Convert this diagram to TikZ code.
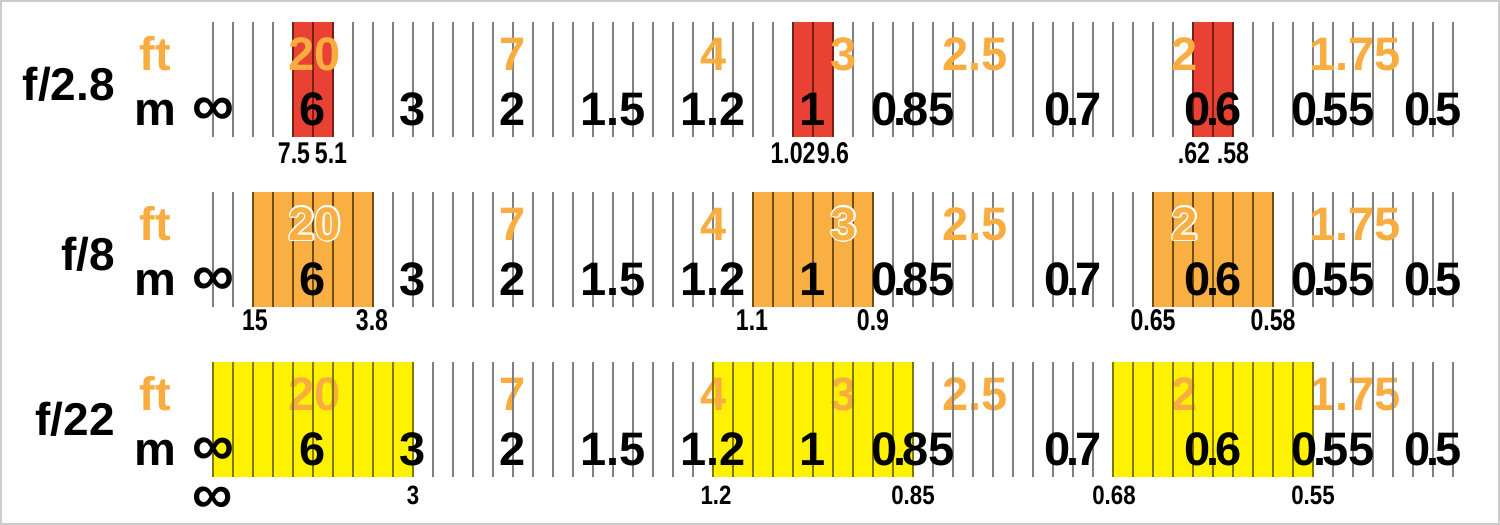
\documentclass[tikz,border=0pt]{standalone}
\usepackage{fontspec}
\setmainfont{Liberation Sans}
\usepackage{graphicx}
\usetikzlibrary{calc}
\definecolor{tickc}{RGB}{128,128,128}
\definecolor{redf}{RGB}{233,66,52}
\definecolor{orf}{RGB}{249,175,66}
\definecolor{yelf}{RGB}{255,242,0}
\definecolor{ftc}{RGB}{249,173,64}
\definecolor{redtick}{RGB}{118,32,24}
\definecolor{ortick}{RGB}{112,78,28}
\definecolor{yeltick}{RGB}{128,121,0}
\definecolor{framec}{RGB}{204,204,204}
\newcommand\zpt{0\kern-4pt.\kern-4pt}
\newcommand\narrowA[1]{\scalebox{0.77}[1]{#1}}
\newcommand\narrowB[1]{\scalebox{0.84}[1]{#1}}
\newcommand\infsym{\scalebox{1.25}{∞}}
\begin{document}
\begin{tikzpicture}[x=1pt,y=-1pt,
  tickl/.style={line width=1.8pt, draw=tickc},
  bigtxt/.style={font=\fontsize{47}{47}\selectfont\bfseries, inner sep=0pt, anchor=base},
  fttxt/.style={bigtxt, text=ftc},
  smalltxt/.style={font=\fontsize{30}{30}\selectfont\bfseries, inner sep=0pt, anchor=base},
  smalltxtb/.style={font=\fontsize{26.5}{26.5}\selectfont\bfseries, inner sep=0pt, anchor=base},
  flabel/.style={font=\fontsize{46}{46}\selectfont\bfseries, inner sep=0pt, anchor=base east}]
\useasboundingbox (0,0) rectangle (1500,525);
\fill[white] (0,0) rectangle (1500,525);
\draw[framec, line width=2pt] (1,1) rectangle (1499,524);

% ---------- aperture labels ----------
\node[flabel] (f28) at (115,100) {f/2.8};
\node[flabel] (f8)  at (115,270) {f/8};
\node[flabel] (f22) at (115,435) {f/22};

% ---------- unit labels ----------
\foreach \dy [count=\r] in {0,170,340} {
  \node[fttxt] (ft\r) at (155,70+\dy) {ft};
  \node[bigtxt] (m\r) at (155,125+\dy) {m};
}

% ================= ROW 1 (f/2.8) =================
\fill[redf] (293,22) rectangle (333,137);
\fill[redf] (793,22) rectangle (833,137);
\fill[redf] (1193,22) rectangle (1233,137);
\foreach \k in {0,...,62} \draw[tickl] ({213+20*\k},22) -- ({213+20*\k},137);
\foreach \s in {4,29,49} \foreach \j in {0,1,2}
  \draw[tickl,draw=redtick] ({213+20*(\s+\j)},22) -- ({213+20*(\s+\j)},137);
\foreach \x/\t [count=\i] in {315/20,513/7,714/4,844/3,975/2.5,1185/2,1355/1.75}
  \node[fttxt] (fa\i) at (\x,70) {\t};
\foreach \x/\t [count=\i] in {213/\infsym,313/6,413/3,513/2,613/1.5,713/1.2,813/1,913/{\zpt 85},1073/{\zpt 7},1213/{\zpt 6},1333/{\zpt 55},1433/{\zpt 5}}
  \node[bigtxt] (ma\i) at (\x,125) {\t};
\foreach \x/\t [count=\i] in {294/7.5,331/5.1,793/1.02,833/9.6,1194/.62,1233/.58}
  \node[smalltxt] (sa\i) at (\x,163) {\narrowA{\t}};

% ================= ROW 2 (f/8) =================
\fill[orf] (253,192) rectangle (373,307);
\fill[orf] (753,192) rectangle (873,307);
\fill[orf] (1153,192) rectangle (1273,307);
\foreach \k in {0,...,62} \draw[tickl] ({213+20*\k},192) -- ({213+20*\k},307);
\foreach \s in {2,27,47} \foreach \j in {0,...,6}
  \draw[tickl,draw=ortick] ({213+20*(\s+\j)},192) -- ({213+20*(\s+\j)},307);
\foreach \x/\t [count=\i] in {513/7,714/4,975/2.5,1355/1.75}
  \node[fttxt] (fb\i) at (\x,240) {\t};
\foreach \x/\t [count=\i] in {315/20,844/3,1185/2} {
  \foreach \a in {0,30,...,330}
    \node[bigtxt,text=white] at ($(\x,240)+(\a:1.6)$) {\t};
  \node[fttxt,text=orf] (fo\i) at (\x,240) {\t};
}
\foreach \x/\t [count=\i] in {213/\infsym,313/6,413/3,513/2,613/1.5,713/1.2,813/1,913/{\zpt 85},1073/{\zpt 7},1213/{\zpt 6},1333/{\zpt 55},1433/{\zpt 5}}
  \node[bigtxt] (mb\i) at (\x,295) {\t};
\foreach \x/\t [count=\i] in {255/15,372/3.8,752/1.1,873/0.9,1153/0.65,1273/0.58}
  \node[smalltxt] (sb\i) at (\x,330) {\narrowA{\t}};

% ================= ROW 3 (f/22) =================
\fill[yelf] (213,362) rectangle (413,477);
\fill[yelf] (713,362) rectangle (913,477);
\fill[yelf] (1113,362) rectangle (1313,477);
\foreach \x/\t [count=\i] in {315/20,513/7,714/4,844/3,975/2.5,1185/2,1355/1.75}
  \node[fttxt] (fc\i) at (\x,410) {\t};
\foreach \k in {0,...,62} \draw[tickl] ({213+20*\k},362) -- ({213+20*\k},477);
\foreach \s in {0,25,45} \foreach \j in {0,...,10}
  \draw[tickl,draw=yeltick] ({213+20*(\s+\j)},362) -- ({213+20*(\s+\j)},477);
\foreach \x/\t [count=\i] in {213/\infsym,313/6,413/3,513/2,613/1.5,713/1.2,813/1,913/{\zpt 85},1073/{\zpt 7},1213/{\zpt 6},1333/{\zpt 55},1433/{\zpt 5}}
  \node[bigtxt] (mc\i) at (\x,465) {\t};
\node[bigtxt] (sc0) at (213,513) {\scalebox{1.2}{∞}};
\foreach \x/\t [count=\i] in {413/3,716/1.2,913/0.85,1114/0.68,1313/0.55}
  \node[smalltxtb] (sc\i) at (\x,504) {\narrowB{\t}};
\end{tikzpicture}
\end{document}
